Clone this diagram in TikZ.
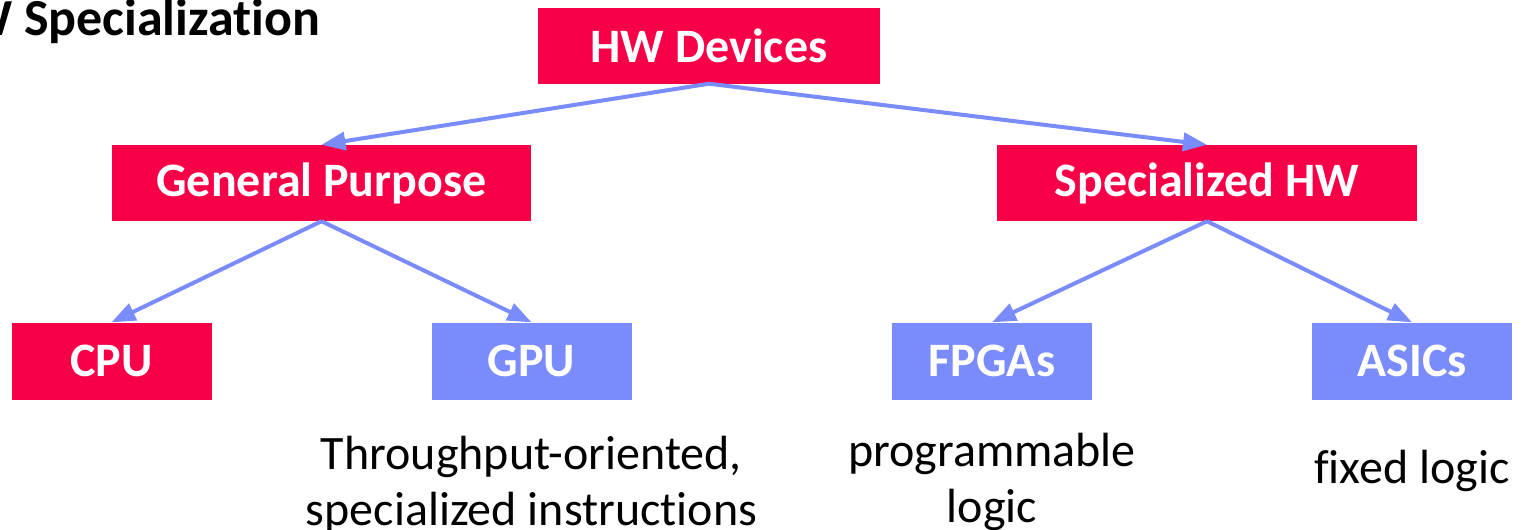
\documentclass[tikz,border=0pt]{standalone}
\usepackage{fontspec}
\setmainfont{Carlito}[RawFeature=-liga]
\usepackage{tikz}
\usetikzlibrary{arrows.meta,positioning}
\definecolor{hwred}{RGB}{247,0,72}
\definecolor{hwblue}{RGB}{122,139,252}
\tikzset{
  hwnode/.style = {rectangle, align=center, inner sep=0pt, text=white, font=\bfseries\fontsize{48}{57}\selectfont, minimum height=76pt},
  rednode/.style = {hwnode, fill=hwred},
  bluenode/.style = {hwnode, fill=hwblue},
  leafnode/.style = {minimum width=200pt, minimum height=77pt},
  note/.style = {align=center, inner sep=0pt, font=\fontsize{48}{56}\selectfont},
  hwedge/.style = {draw=hwblue, line width=4pt, -{Triangle[length=24pt,width=18pt]}},
  level 1/.style = {sibling distance=885.5pt, level distance=137.5pt},
  level 2/.style = {sibling distance=420pt, level distance=178pt},
}

\begin{document}
\begin{tikzpicture}[x=1pt, y=1pt]
\useasboundingbox (0,0) rectangle (1527,-530);
% title, cut off at the left edge
\node [anchor=base west, inner sep=0pt, font=\bfseries\fontsize{52}{60}\selectfont] (title) at (-35,-35) {W Specialization};
\node [rednode, minimum width=342pt] (hw) at (709,-45.5) {HW Devices}
  [parent anchor=south, child anchor=north, edge from parent/.style={hwedge}]
  child[xshift=55.25pt]{ node [rednode, minimum width=419pt] (gp) {General Purpose}
    child{ node [rednode, leafnode] (cpu) {CPU} }
    child{ node [bluenode, leafnode] (gpu) {GPU} }
  }
  child[xshift=55.25pt]{ node [rednode, minimum width=420pt] (sh) {Specialized HW}
    child[xshift=-5pt]{ node [bluenode, leafnode] (fpga) {FPGAs} }
    child[xshift=-5pt]{ node [bluenode, leafnode] (asic) {ASICs} }
  }
;
% notes under the leaves
\node [note, below=36pt of gpu] (gpunote) {Throughput-oriented,\\specialized instructions};
\node [note, below=33pt of fpga] (fpganote) {programmable\\logic};
\node [note, below=50pt of asic] (asicnote) {fixed logic};
\end{tikzpicture}
\end{document}
